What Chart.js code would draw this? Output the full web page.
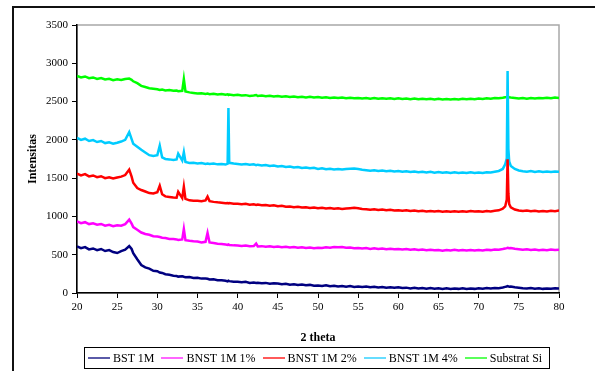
<!DOCTYPE html>
<html>
<head>
<meta charset="utf-8">
<script src="https://cdn.jsdelivr.net/npm/chart.js@4/dist/chart.umd.min.js"></script>
<style>
  html, body { margin: 0; padding: 0; background: #fff; }
  #wrap { position: relative; width: 595px; height: 371px; overflow: hidden; }
  #frame { position: absolute; left: 12px; top: 6px; width: 600px; height: 400px;
           border-left: 2px solid #111; border-top: 2px solid #111; }
  #legend { position: absolute; left: 84px; top: 347px; width: 466px; height: 22px;
            box-sizing: border-box; border: 1.5px solid #000; display: flex; align-items: center;
            padding-left: 3px; gap: 7px; font: 12px "Liberation Serif", serif; color: #000; }
  #legend .item { display: flex; align-items: center; white-space: nowrap; }
  #legend .line { width: 22px; height: 2px; margin-right: 3px; }
</style>
</head>
<body>
<div id="wrap">
  <div id="frame"></div>
  <canvas id="xrdChart" width="595" height="371"></canvas>
  <div id="legend"></div>
</div>
<script>
// 2 theta (derajat)
const theta = [
  20, 20.5, 21, 21.5, 22, 22.5, 23, 23.5, 24, 24.5, 25, 25.5, 26,
  26.5, 26.8, 27, 27.5, 28, 28.5, 29, 29.5, 30,
  30.3, 30.6, 31, 31.5, 32, 32.4, 32.6, 33.1, 33.3, 33.5, 34,
  34.5, 35, 35.5, 36, 36.25, 36.5, 37, 37.5, 38, 38.5,
  38.75, 38.85, 38.95, 39.5, 40,
  40.5, 41, 41.5, 42, 42.3, 42.5, 43, 43.5, 44, 44.5,
  45, 45.5, 46, 46.5, 47, 47.5, 48, 48.5, 49, 49.5,
  50, 50.5, 51, 51.5, 52, 52.5, 53, 53.5, 54, 54.5,
  55, 55.5, 56, 56.5, 57, 57.5, 58, 58.5, 59, 59.5,
  60, 60.5, 61, 61.5, 62, 62.5, 63, 63.5, 64, 64.5,
  65, 65.5, 66, 66.5, 67, 67.5, 68, 68.5, 69, 69.5,
  70, 70.5, 71, 71.5, 72, 72.5,
  73, 73.3, 73.5, 73.6, 73.7, 73.8, 74,
  74.5, 75, 75.5, 76, 76.5, 77, 77.5, 78, 78.5, 79, 79.5, 80
];

const bst1M = [
  608, 585, 600, 570, 582, 560, 575, 548, 560, 535, 522, 548, 565,
  612, 575, 520, 440, 365, 335, 318, 290, 285,
  268, 262, 245, 238, 226, 222, 214, 220, 212, 205, 210,
  196, 200, 188, 190, 186, 176, 180, 168, 166, 160,
  152, 160, 155, 148, 146,
  140, 146, 132, 138, 130, 134, 126, 132, 120, 126,
  124, 114, 120, 108, 114, 104, 110, 100, 106, 96,
  98, 92, 100, 88, 94, 84, 92, 82, 90, 80,
  86, 78, 84, 74, 80, 72, 78, 70, 76, 68,
  74, 64, 70, 60, 68, 58, 66, 56, 64, 56,
  62, 54, 62, 52, 60, 54, 62, 52, 60, 54,
  62, 56, 64, 58, 66, 62,
  72, 80, 84, 90, 86, 82, 84,
  74, 68, 62, 58, 64, 56, 62, 54, 60, 56, 62, 58
];

const bnst1 = [
  935, 912, 925, 900, 910, 892, 902, 880, 890, 872, 885, 878, 900,
  958, 905, 860, 825, 790, 770, 760, 742, 738,
  732, 722, 718, 706, 704, 700, 692, 700, 836, 690, 682,
  676, 672, 660, 668, 784, 660, 652, 644, 640, 632,
  628, 634, 628, 622, 620,
  614, 620, 610, 612, 645, 608, 612, 604, 610, 600,
  608, 598, 604, 594, 600, 590, 598, 588, 595, 586,
  592, 588, 596, 592, 602, 596, 600, 590, 594, 584,
  588, 580, 586, 576, 584, 574, 580, 572, 578, 570,
  575, 568, 574, 564, 572, 562, 568, 560, 566, 558,
  560, 552, 562, 556, 564, 556, 562, 554, 562, 556,
  560, 556, 564, 560, 568, 566,
  574, 580, 586, 590, 588, 584, 586,
  578, 572, 566, 570, 562, 568, 560, 566, 560, 568, 562, 566
];

const bnst2 = [
  1560, 1535, 1552, 1522, 1535, 1512, 1525, 1500, 1512, 1495, 1508, 1520, 1540,
  1612, 1520, 1440, 1370, 1345, 1325, 1305, 1300, 1315,
  1400, 1290, 1262, 1255, 1248, 1245, 1322, 1240, 1388, 1230, 1210,
  1205, 1204, 1198, 1210, 1258, 1200, 1190, 1184, 1180, 1172,
  1176, 1170, 1174, 1166, 1165,
  1158, 1164, 1152, 1158, 1150, 1155, 1146, 1150, 1140, 1145,
  1132, 1138, 1126, 1130, 1120, 1126, 1116, 1120, 1110, 1116,
  1108, 1112, 1104, 1110, 1100, 1106, 1098, 1104, 1108, 1112,
  1106, 1098, 1094, 1088, 1094, 1084, 1090, 1080, 1086, 1078,
  1082, 1074, 1080, 1070, 1078, 1068, 1074, 1066, 1072, 1064,
  1070, 1062, 1068, 1060, 1068, 1060, 1068, 1062, 1070, 1064,
  1068, 1062, 1070, 1066, 1074, 1080,
  1100, 1130, 1220, 1746, 1300, 1160, 1120,
  1090, 1078, 1070, 1076, 1068, 1074, 1066, 1072, 1066, 1074, 1068, 1076
];

const bnst4 = [
  2025, 2000, 2015, 1985, 1998, 1972, 1985, 1958, 1968, 1950, 1962, 1978, 2000,
  2100, 2010, 1950, 1910, 1870, 1835, 1800, 1790, 1800,
  1924, 1770, 1750, 1745, 1738, 1745, 1820, 1730, 1840, 1710, 1698,
  1700, 1692, 1698, 1686, 1692, 1684, 1690, 1680, 1686, 1678,
  1690, 2416, 1700, 1690, 1685,
  1678, 1684, 1674, 1680, 1670, 1676, 1666, 1672, 1660, 1666,
  1652, 1658, 1646, 1652, 1640, 1646, 1634, 1640, 1628, 1634,
  1620, 1628, 1616, 1624, 1614, 1620, 1612, 1618, 1622, 1626,
  1618, 1610, 1604, 1598, 1604, 1594, 1600, 1590, 1596, 1588,
  1594, 1584, 1590, 1580, 1588, 1578, 1584, 1574, 1582, 1572,
  1580, 1570, 1578, 1568, 1576, 1566, 1574, 1566, 1576, 1568,
  1574, 1568, 1578, 1574, 1584, 1594,
  1620, 1680, 1760, 2900, 1880, 1720, 1660,
  1620, 1600, 1590, 1584, 1592, 1582, 1590, 1580, 1588, 1580, 1588, 1584
];

const substratSi = [
  2835, 2815, 2828, 2805, 2815, 2795, 2808, 2788, 2798, 2780, 2790, 2782, 2795,
  2800, 2785, 2765, 2740, 2705, 2690, 2675, 2668, 2660,
  2652, 2658, 2646, 2650, 2640, 2644, 2636, 2640, 2795, 2632, 2620,
  2612, 2605, 2610, 2600, 2604, 2596, 2602, 2592, 2598, 2588,
  2594, 2586, 2592, 2584, 2588,
  2578, 2584, 2574, 2580, 2586, 2572, 2578, 2570, 2576, 2566,
  2572, 2562, 2568, 2560, 2566, 2556, 2564, 2554, 2562, 2552,
  2558, 2550, 2556, 2548, 2554, 2546, 2552, 2544, 2550, 2542,
  2548, 2540, 2546, 2538, 2546, 2536, 2544, 2536, 2542, 2534,
  2542, 2534, 2540, 2532, 2540, 2530, 2538, 2530, 2536, 2528,
  2536, 2528, 2534, 2526, 2534, 2528, 2536, 2530, 2538, 2532,
  2540, 2534, 2542, 2538, 2546, 2542,
  2550, 2556, 2560, 2564, 2560, 2556, 2552,
  2546, 2540, 2546, 2538, 2546, 2540, 2548, 2542, 2550, 2544, 2552, 2548
];

const seriesNames = ["BST 1M", "BNST 1M 1%", "BNST 1M 2%", "BNST 1M 4%", "Substrat Si"];
const seriesValues = [bst1M, bnst1, bnst2, bnst4, substratSi];
const seriesColors = ["#000080", "#FF00FF", "#FF0000", "#00CCFF", "#00FF00"];
const legendColors = ["#5a5aa8", "#ff66ff", "#ff5a5a", "#66ddff", "#5aff5a"];

const FONT = "'Liberation Serif', 'Times New Roman', serif";

// garis abu-abu di sisi atas & kanan area plot
const plotFrame = {
  id: "plotFrame",
  beforeDraw(chart) {
    const { ctx, chartArea: a } = chart;
    ctx.save();
    ctx.strokeStyle = "#a8a8a8";
    ctx.lineWidth = 1.5;
    ctx.strokeRect(a.left, a.top, a.right - a.left, a.bottom - a.top);
    ctx.restore();
  }
};

const datasets = seriesNames.map((name, i) => ({
  label: name,
  data: theta.map((t, j) => ({ x: t, y: seriesValues[i][j] })),
  borderColor: seriesColors[i],
  borderWidth: 2.5,
  pointRadius: 0,
  tension: 0,
  fill: false
}));

new Chart(document.getElementById("xrdChart").getContext("2d"), {
  type: "line",
  data: { datasets },
  plugins: [plotFrame],
  options: {
    responsive: false,
    animation: false,
    events: [],
    layout: { padding: { top: 25, right: 36, bottom: 23, left: 0 } },
    plugins: { legend: { display: false }, tooltip: { enabled: false } },
    scales: {
      x: {
        type: "linear",
        min: 20, max: 80,
        afterFit: s => { s.height = 55; },
        ticks: { stepSize: 5, color: "#000", padding: 3, maxRotation: 0,
                 font: { family: FONT, size: 11 }, callback: v => String(v) },
        grid: { drawOnChartArea: false, tickLength: 5, color: "#000" },
        border: { color: "#000", width: 1.5 },
        title: { display: true, text: "2 theta", color: "#000",
                 font: { family: FONT, size: 12, weight: "bold" },
                 padding: { top: 0, bottom: 3 } }
      },
      y: {
        min: 0, max: 3500,
        afterFit: s => { s.width = 77; },
        ticks: { stepSize: 500, color: "#000", padding: 4,
                 font: { family: FONT, size: 11 }, callback: v => String(v) },
        grid: { drawOnChartArea: false, tickLength: 5, color: "#000" },
        border: { color: "#000", width: 1.5 },
        title: { display: true, text: "Intensitas", color: "#000",
                 font: { family: FONT, size: 12, weight: "bold" },
                 padding: { top: 26, bottom: 0 } }
      }
    }
  }
});

// legenda dalam kotak di bawah
const legendEl = document.getElementById("legend");
seriesNames.forEach((name, i) => {
  const item = document.createElement("div");
  item.className = "item";
  item.innerHTML = `<span class="line" style="background:${legendColors[i]}"></span><span>${name}</span>`;
  legendEl.appendChild(item);
});
</script>
</body>
</html>
